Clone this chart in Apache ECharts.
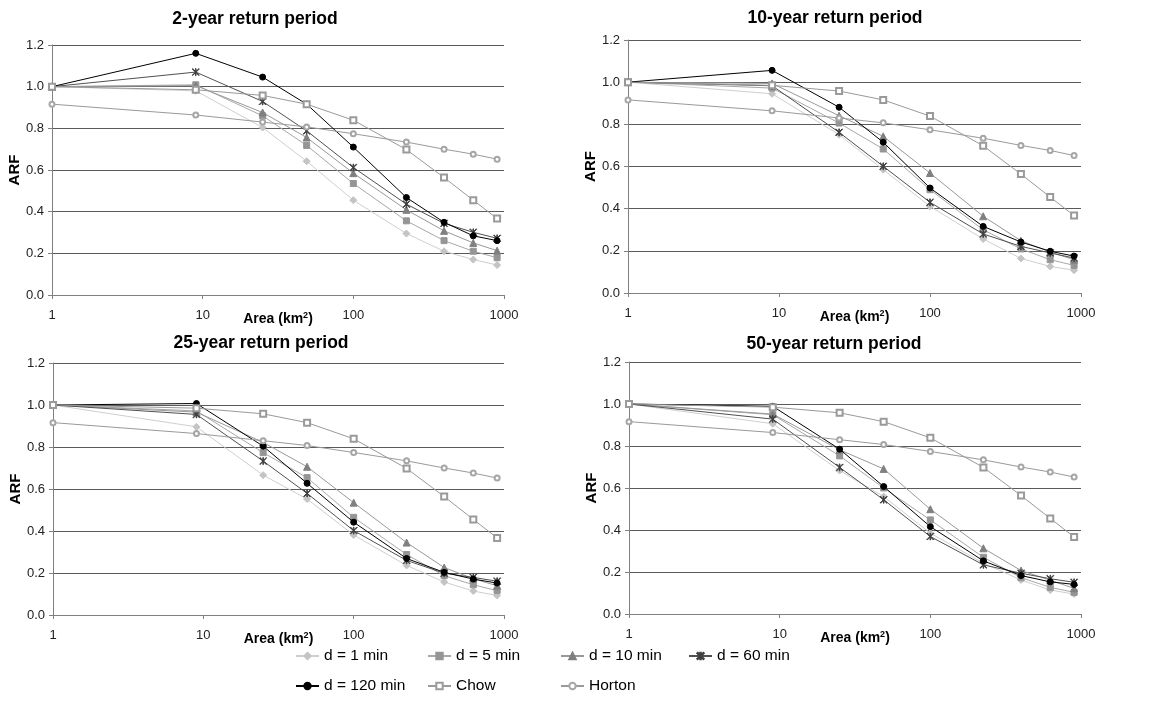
<!DOCTYPE html>
<html>
<head>
<meta charset="utf-8">
<script src="https://cdn.jsdelivr.net/npm/echarts@6/dist/echarts.min.js"></script>
<style>
  html, body { margin: 0; padding: 0; background: #fff; }
  #chart { width: 1151px; height: 705px; }
</style>
</head>
<body>
<div id="chart"></div>
<script>
// catchment areas (km2), same for every panel
const areas = [1, 9, 25, 49, 100, 225, 400, 625, 900];

const titles = ['2-year return period', '10-year return period', '25-year return period', '50-year return period'];
const seriesNames = ['d = 1 min', 'd = 5 min', 'd = 10 min', 'd = 60 min', 'd = 120 min', 'Chow', 'Horton'];
const yTicks = [0, 0.2, 0.4, 0.6, 0.8, 1.0, 1.2];
const xTicks = [1, 10, 100, 1000];

// empirical formulas (same in all panels)
const chow = [1.0, 0.985, 0.958, 0.916, 0.839, 0.698, 0.564, 0.455, 0.367];
const horton = [0.916, 0.864, 0.830, 0.807, 0.774, 0.734, 0.700, 0.676, 0.652];

// 2-year
const t2_d1 = [1.0, 0.980, 0.804, 0.642, 0.455, 0.295, 0.210, 0.170, 0.144];
const t2_d5 = [1.0, 1.009, 0.860, 0.718, 0.535, 0.356, 0.261, 0.210, 0.179];
const t2_d10 = [1.0, 1.005, 0.876, 0.756, 0.585, 0.409, 0.308, 0.250, 0.213];
const t2_d60 = [1.0, 1.070, 0.929, 0.788, 0.612, 0.436, 0.344, 0.301, 0.272];
const t2_d120 = [1.0, 1.160, 1.046, 0.916, 0.710, 0.468, 0.349, 0.284, 0.261];

// 10-year
const t10_d1 = [1.0, 0.945, 0.751, 0.585, 0.411, 0.256, 0.164, 0.126, 0.108];
const t10_d5 = [1.0, 0.972, 0.806, 0.683, 0.490, 0.300, 0.209, 0.158, 0.131];
const t10_d10 = [1.0, 0.994, 0.841, 0.743, 0.569, 0.364, 0.248, 0.194, 0.158];
const t10_d60 = [1.0, 0.983, 0.762, 0.601, 0.430, 0.280, 0.221, 0.190, 0.166];
const t10_d120 = [1.0, 1.056, 0.881, 0.715, 0.498, 0.316, 0.242, 0.198, 0.175];

// 25-year
const t25_d1 = [1.0, 0.896, 0.666, 0.552, 0.381, 0.236, 0.157, 0.114, 0.093];
const t25_d5 = [1.0, 0.972, 0.773, 0.654, 0.465, 0.288, 0.187, 0.144, 0.116];
const t25_d10 = [1.0, 0.966, 0.822, 0.706, 0.535, 0.345, 0.226, 0.173, 0.139];
const t25_d60 = [1.0, 0.955, 0.733, 0.579, 0.402, 0.260, 0.199, 0.179, 0.161];
const t25_d120 = [1.0, 1.007, 0.804, 0.627, 0.442, 0.269, 0.203, 0.171, 0.152];

// 50-year
const t50_d1 = [1.0, 0.906, 0.683, 0.559, 0.385, 0.242, 0.162, 0.114, 0.095];
const t50_d5 = [1.0, 0.949, 0.753, 0.600, 0.448, 0.270, 0.173, 0.127, 0.103];
const t50_d10 = [1.0, 0.952, 0.782, 0.691, 0.499, 0.313, 0.207, 0.161, 0.122];
const t50_d60 = [1.0, 0.928, 0.698, 0.544, 0.369, 0.234, 0.194, 0.168, 0.151];
const t50_d120 = [1.0, 0.989, 0.785, 0.607, 0.416, 0.253, 0.183, 0.153, 0.141];

const panels = [
  [t2_d1, t2_d5, t2_d10, t2_d60, t2_d120, chow, horton],
  [t10_d1, t10_d5, t10_d10, t10_d60, t10_d120, chow, horton],
  [t25_d1, t25_d5, t25_d10, t25_d60, t25_d120, chow, horton],
  [t50_d1, t50_d5, t50_d10, t50_d60, t50_d120, chow, horton]
];

// asterisk marker
const starPath = 'path://M4.6 0L5.4 0L5.4 10L4.6 10Z M0.6 0L10 9.4L9.4 10L0 0.6Z M9.4 0L10 0.6L0.6 10L0 9.4Z';

const styles = [
  { symbol: 'diamond', size: 7, color: '#c4c4c4', line: '#cfcfcf' },
  { symbol: 'rect', size: 6, color: '#959595', line: '#a8a8a8' },
  { symbol: 'triangle', size: 7, color: '#808080', line: '#999999' },
  { symbol: starPath, size: 7, color: '#404040', line: '#505050' },
  { symbol: 'circle', size: 6, color: '#000000', line: '#000000' },
  { symbol: 'emptyRect', size: 6, color: '#9a9a9a', line: '#9a9a9a' },
  { symbol: 'emptyCircle', size: 5, color: '#a6a6a6', line: '#9a9a9a' }
];

const grids = [
  { left: 52, top: 45, width: 452, height: 250 },
  { left: 628, top: 40, width: 453, height: 253 },
  { left: 53, top: 363, width: 451, height: 252 },
  { left: 629, top: 362, width: 452, height: 252 }
];
const titlePos = [[250, 5], [830, 4], [256, 329], [829, 330]];

const chart = echarts.init(document.getElementById('chart'));

const xAxes = [], yAxes = [], series = [];
grids.forEach(function (g, i) {
  xAxes.push({
    type: 'log', logBase: 10, min: xTicks[0], max: xTicks[xTicks.length - 1], gridIndex: i,
    name: '{a|Area (km}{s|2}{a|)}', nameLocation: 'middle', nameGap: 16, nameMoveOverlap: false,
    nameTextStyle: {
      rich: {
        a: { fontFamily: 'Liberation Sans, Arial', fontWeight: 'bold', fontSize: 14, color: '#000' },
        s: { fontFamily: 'Liberation Sans, Arial', fontWeight: 'bold', fontSize: 9, color: '#000', verticalAlign: 'top', padding: [0, 0, 8, 0] }
      }
    },
    axisLine: { lineStyle: { color: '#808080', width: 1 } },
    axisTick: { show: true, length: 4, inside: false, lineStyle: { color: '#808080' } },
    minorTick: { show: false },
    axisLabel: { fontFamily: 'Liberation Sans, Arial', fontSize: 13, color: '#222', margin: 14,
      formatter: function (v) { return String(Math.round(v)); } },
    splitLine: { show: false }
  });
  yAxes.push({
    type: 'value', min: yTicks[0], max: yTicks[yTicks.length - 1], interval: 0.2, gridIndex: i,
    name: 'ARF', nameLocation: 'middle', nameGap: 30,
    nameTextStyle: { fontFamily: 'Liberation Sans, Arial', fontWeight: 'bold', fontSize: 15, color: '#000' },
    axisLine: { show: true, lineStyle: { color: '#808080', width: 1 } },
    axisTick: { show: true, length: 4, lineStyle: { color: '#808080' } },
    axisLabel: { fontFamily: 'Liberation Sans, Arial', fontSize: 13, color: '#222', margin: 8,
      formatter: function (v) { return v.toFixed(1); } },
    splitLine: { show: true, lineStyle: { color: '#5a5a5a', width: 1 } }
  });
  panels[i].forEach(function (vals, k) {
    const s = styles[k];
    series.push({
      name: seriesNames[k], type: 'line', xAxisIndex: i, yAxisIndex: i,
      data: areas.map(function (a, j) { return [a, vals[j]]; }),
      symbol: s.symbol, symbolSize: s.size, showSymbol: true,
      itemStyle: { color: s.color, borderColor: s.color, borderWidth: 1 },
      lineStyle: { color: s.line, width: 1 },
      animation: false, z: 2 + k
    });
  });
});

// legend laid out as two rows of columns
const legendCols = [295, 427, 560, 688];
const legends = seriesNames.map(function (name, k) {
  return {
    data: [name], left: legendCols[k % 4], top: k < 4 ? 648 : 678, padding: 0,
    itemWidth: 23, itemHeight: 8, itemGap: 5, selectedMode: false,
    textStyle: { fontFamily: 'Liberation Sans, Arial', fontSize: 15.5, color: '#000' }
  };
});

chart.setOption({
  backgroundColor: '#fff',
  animation: false,
  title: titles.map(function (t, i) {
    return { text: t, left: titlePos[i][0], top: titlePos[i][1], textAlign: 'center',
      textStyle: { fontFamily: 'Liberation Sans, Arial', fontWeight: 'bold', fontSize: 17.5, color: '#000' } };
  }),
  legend: legends,
  grid: grids,
  xAxis: xAxes,
  yAxis: yAxes,
  series: series
});
</script>
</body>
</html>
